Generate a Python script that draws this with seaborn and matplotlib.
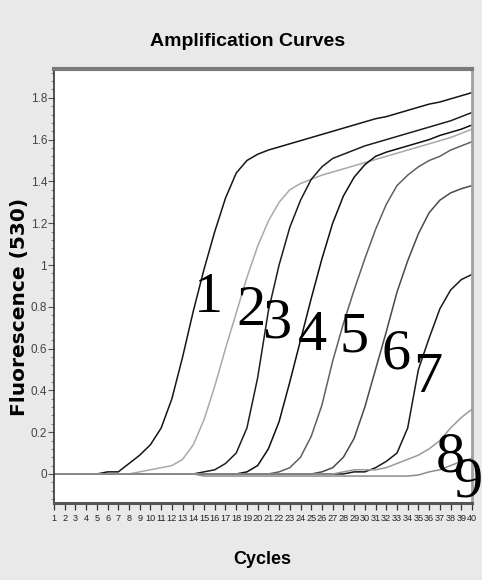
import numpy as np
import pandas as pd
import matplotlib
matplotlib.use("Agg")
import matplotlib.pyplot as plt
from matplotlib.ticker import MultipleLocator, FixedLocator
import seaborn as sns

# ---------------- data ----------------
cycles = list(range(1, 41))

curve1 = [0.00, 0.00, 0.00, 0.00, 0.00, 0.01, 0.01, 0.05, 0.09, 0.14,
          0.22, 0.36, 0.56, 0.78, 0.98, 1.16, 1.32, 1.44, 1.50, 1.53,
          1.55, 1.565, 1.58, 1.595, 1.61, 1.625, 1.64, 1.655, 1.67, 1.685,
          1.70, 1.71, 1.725, 1.74, 1.755, 1.77, 1.78, 1.795, 1.81, 1.825]
curve2 = [0.00, 0.00, 0.00, 0.00, 0.00, 0.00, 0.00, 0.00, 0.01, 0.02,
          0.03, 0.04, 0.07, 0.14, 0.26, 0.42, 0.60, 0.77, 0.94, 1.09,
          1.21, 1.30, 1.36, 1.39, 1.41, 1.43, 1.445, 1.46, 1.475, 1.49,
          1.505, 1.52, 1.535, 1.55, 1.565, 1.58, 1.595, 1.61, 1.63, 1.65]
curve3 = [0.00, 0.00, 0.00, 0.00, 0.00, 0.00, 0.00, 0.00, 0.00, 0.00,
          0.00, 0.00, 0.00, 0.00, 0.01, 0.02, 0.05, 0.10, 0.22, 0.46,
          0.78, 1.00, 1.18, 1.31, 1.41, 1.47, 1.51, 1.53, 1.55, 1.57,
          1.585, 1.60, 1.615, 1.63, 1.645, 1.66, 1.675, 1.69, 1.71, 1.73]
curve4 = [0.00, 0.00, 0.00, 0.00, 0.00, 0.00, 0.00, 0.00, 0.00, 0.00,
          0.00, 0.00, 0.00, 0.00, 0.00, 0.00, 0.00, 0.00, 0.01, 0.04,
          0.12, 0.25, 0.44, 0.64, 0.84, 1.03, 1.20, 1.33, 1.42, 1.48,
          1.52, 1.54, 1.555, 1.57, 1.585, 1.60, 1.62, 1.635, 1.65, 1.67]
curve5 = [0.00, 0.00, 0.00, 0.00, 0.00, 0.00, 0.00, 0.00, 0.00, 0.00,
          0.00, 0.00, 0.00, 0.00, 0.00, 0.00, 0.00, 0.00, 0.00, 0.00,
          0.00, 0.01, 0.03, 0.08, 0.18, 0.33, 0.54, 0.72, 0.88, 1.03,
          1.17, 1.29, 1.38, 1.43, 1.47, 1.50, 1.52, 1.55, 1.57, 1.59]
curve6 = [0.00, 0.00, 0.00, 0.00, 0.00, 0.00, 0.00, 0.00, 0.00, 0.00,
          0.00, 0.00, 0.00, 0.00, 0.00, 0.00, 0.00, 0.00, 0.00, 0.00,
          0.00, 0.00, 0.00, 0.00, 0.00, 0.01, 0.03, 0.08, 0.17, 0.32,
          0.50, 0.68, 0.87, 1.02, 1.15, 1.25, 1.31, 1.345, 1.365, 1.38]
curve7 = [0.00, 0.00, 0.00, 0.00, 0.00, 0.00, 0.00, 0.00, 0.00, 0.00,
          0.00, 0.00, 0.00, 0.00, 0.00, 0.00, 0.00, 0.00, 0.00, 0.00,
          0.00, 0.00, 0.00, 0.00, 0.00, 0.00, 0.00, 0.00, 0.01, 0.01,
          0.03, 0.06, 0.10, 0.22, 0.50, 0.65, 0.79, 0.88, 0.93, 0.955]
curve8 = [0.00, 0.00, 0.00, 0.00, 0.00, 0.00, 0.00, 0.00, 0.00, 0.00,
          0.00, 0.00, 0.00, 0.00, 0.00, 0.00, 0.00, 0.00, 0.00, 0.00,
          0.00, 0.00, 0.00, 0.00, 0.00, 0.00, 0.00, 0.01, 0.02, 0.02,
          0.02, 0.03, 0.05, 0.07, 0.09, 0.12, 0.16, 0.22, 0.27, 0.31]
curve9 = [0.00, 0.00, 0.00, 0.00, 0.00, 0.00, 0.00, 0.00, 0.00, 0.00,
          0.00, 0.00, 0.00, 0.00, -0.01, -0.01, -0.01, -0.01, -0.01, -0.01,
          -0.01, -0.01, -0.01, -0.01, -0.01, -0.01, -0.01, -0.01, -0.01, -0.01,
          -0.01, -0.01, -0.01, -0.01, -0.005, 0.01, 0.02, 0.04, 0.06, 0.075]

curve_names = ["1", "2", "3", "4", "5", "6", "7", "8", "9"]
curve_values = [curve1, curve2, curve3, curve4, curve5, curve6, curve7, curve8, curve9]

y_ticks = [0, 0.2, 0.4, 0.6, 0.8, 1.0, 1.2, 1.4, 1.6, 1.8]
y_tick_labels = ["0", "0.2", "0.4", "0.6", "0.8", "1", "1.2", "1.4", "1.6", "1.8"]
x_tick_labels = [str(c) for c in cycles]

df = pd.DataFrame({
    "Cycle": np.tile(cycles, len(curve_names)),
    "Fluorescence": np.concatenate([np.asarray(v, float) for v in curve_values]),
    "Curve": np.repeat(curve_names, len(cycles)),
})

# ---------------- style ----------------
line_colors = ["#151515", "#a9a9a9", "#1e1e1e", "#101010", "#606060",
               "#4a4a4a", "#1a1a1a", "#9a9a9a", "#8c8c8c"]
# label anchor (centre x in cycles, baseline y in fluorescence)
label_pos = [(15.37, 0.775), (19.38, 0.713), (21.75, 0.651), (25.07, 0.593),
             (28.99, 0.584), (32.9, 0.507), (35.89, 0.392), (37.95, 0.012),
             (39.6, -0.110)]

sns.set_style("white")
plt.rcParams["font.family"] = ["Liberation Sans", "DejaVu Sans"]

W, H = 482, 580
fig = plt.figure(figsize=(W / 100, H / 100), dpi=100)
fig.patch.set_facecolor("#e9e9e9")
ax = fig.add_axes([54 / W, 1 - 503 / H, (472 - 54) / W, (503 - 69) / H])
ax.set_facecolor("white")

sns.lineplot(data=df, x="Cycle", y="Fluorescence", hue="Curve",
             palette=line_colors, legend=False, linewidth=1.1, ax=ax,
             estimator=None, sort=False)

ax.set_xlim(1, 40)
ax.set_ylim(-0.139, 1.938)
ax.set_xlabel("")
ax.set_ylabel("")

ax.xaxis.set_major_locator(FixedLocator(cycles))
ax.set_xticks(cycles)
ax.set_xticklabels(x_tick_labels, fontsize=6.6, color="#222222")
ax.set_yticks(y_ticks)
ax.set_yticklabels(y_tick_labels, fontsize=8.5, color="#444444")
ax.yaxis.set_minor_locator(MultipleLocator(0.04))
ax.tick_params(axis="x", which="major", direction="out", length=5, width=0.9,
               color="#333333", pad=3, bottom=True)
ax.tick_params(axis="y", which="major", direction="out", length=4, width=0.8,
               color="#555555", pad=1, left=True)
ax.tick_params(axis="y", which="minor", direction="out", length=2, width=0.6,
               color="#777777", left=True)

for side, col, lw in [("left", "#333333", 1.2), ("bottom", "#555555", 2.2),
                      ("top", "#7a7a7a", 3.0), ("right", "#a0a0a0", 2.0)]:
    ax.spines[side].set_visible(True)
    ax.spines[side].set_color(col)
    ax.spines[side].set_linewidth(lw)

for name, (lx, ly) in zip(curve_names, label_pos):
    ax.text(lx, ly, name, ha="center", va="baseline", fontsize=42,
            family=["Liberation Serif", "DejaVu Serif"], color="black",
            clip_on=False, zorder=5)

fig.text(248 / W, 1 - 42 / H, "Amplification Curves", ha="center", va="center",
         fontsize=14, fontweight="bold", color="black")
fig.text(262 / W, 1 - 559 / H, "Cycles", ha="center", va="center",
         fontsize=13, fontweight="bold", color="black")
fig.text(20 / W, 1 - 307 / H, "Fluorescence (530)", ha="center", va="center",
         rotation=90, fontsize=14.5, fontweight="bold", color="black",
         family=["DejaVu Sans"])

fig.savefig("out.png", dpi=100, facecolor=fig.get_facecolor())
